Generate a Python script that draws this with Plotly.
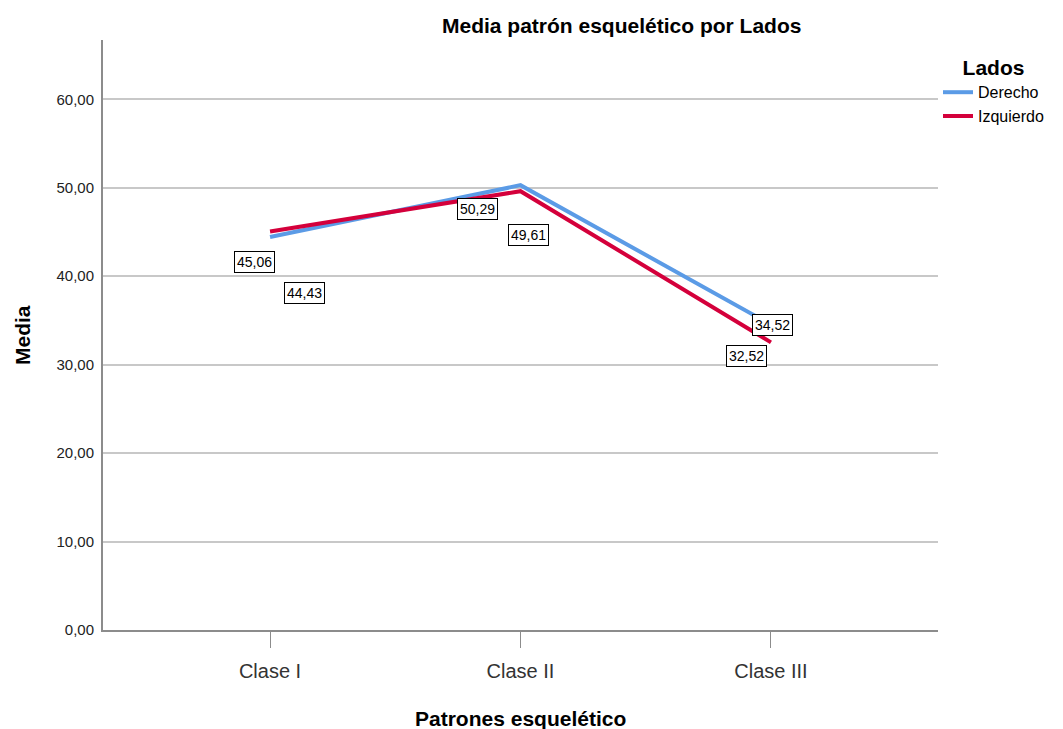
import plotly.graph_objects as go

# Medias por patrón esquelético y lado
categorias = ["Clase I", "Clase II", "Clase III"]
derecho = [44.43, 50.29, 34.52]
izquierdo = [45.06, 49.61, 32.52]

# desplazamiento (px) de cada etiqueta respecto a su punto
off_derecho = [(34, -56), (-43, -24), (2, 0)]
off_izquierdo = [(-16, -31), (8, -44), (-24, -14)]

AZUL = "#5b9be6"
ROJO = "#d4003b"
FUENTE = "Liberation Sans, Arial, sans-serif"

W, H = 1063, 729
L, R, T, B = 103, 125, 40, 99
PW, PH = W - L - R, H - T - B

fig = go.Figure()
fig.add_trace(go.Scatter(x=categorias, y=derecho, mode="lines", name="Derecho",
                         line=dict(color=AZUL, width=4)))
fig.add_trace(go.Scatter(x=categorias, y=izquierdo, mode="lines", name="Izquierdo",
                         line=dict(color=ROJO, width=4)))

def etiqueta(cat, val, off):
    return dict(x=cat, y=val, xref="x", yref="y", showarrow=False,
                text=f"{val:.2f}".replace(".", ","),
                xshift=off[0], yshift=off[1],
                font=dict(family=FUENTE, size=14, color="#000"),
                bgcolor="white", bordercolor="#000", borderwidth=1, borderpad=2)

def px_x(px):
    return (px - L) / PW

def px_y(py):
    return 1 - (py - T) / PH

anots = []
for c, v, o in zip(categorias, derecho, off_derecho):
    anots.append(etiqueta(c, v, o))
for c, v, o in zip(categorias, izquierdo, off_izquierdo):
    anots.append(etiqueta(c, v, o))

titulo_font = dict(family=FUENTE, size=21, color="#000")
# título general y títulos de ejes
anots.append(dict(text="<b>Media patrón esquelético por Lados</b>",
                  xref="paper", yref="paper", x=px_x(621), y=px_y(26),
                  xanchor="center", yanchor="middle", showarrow=False,
                  font=titulo_font))
anots.append(dict(text="<b>Patrones esquelético</b>",
                  xref="paper", yref="paper", x=px_x(520), y=px_y(718),
                  xanchor="center", yanchor="middle", showarrow=False,
                  font=titulo_font))
anots.append(dict(text="<b>Media</b>", textangle=-90,
                  xref="paper", yref="paper", x=px_x(22), y=px_y(335),
                  xanchor="center", yanchor="middle", showarrow=False,
                  font=titulo_font))
fig.update_layout(annotations=anots)

fig.update_layout(
    width=W, height=H,
    margin=dict(l=L, r=R, t=T, b=B, autoexpand=False),
    paper_bgcolor="white", plot_bgcolor="white",
    separators=",.",
    font=dict(family=FUENTE, color="#000"),
    showlegend=True,
    legend=dict(x=1.0, xanchor="left", y=px_y(48), yanchor="top",
                title=dict(text="<b>Lados</b>", side="top center",
                           font=dict(family=FUENTE, size=21, color="#000")),
                font=dict(family=FUENTE, size=16, color="#000"),
                itemwidth=30, tracegroupgap=0, borderwidth=0),
    xaxis=dict(range=[-0.667, 2.667], showgrid=False, showline=True,
               automargin=False,
               linecolor="#8c8c8c", linewidth=2, ticks="outside", ticklen=16,
               tickcolor="#8c8c8c", tickwidth=1, ticklabelstandoff=6,
               tickfont=dict(family=FUENTE, size=20, color="#333")),
    yaxis=dict(range=[0, 66.7], dtick=10, tickformat=".2f", showgrid=True,
               automargin=False,
               gridcolor="#c8c8c8", gridwidth=2, showline=True, linecolor="#8c8c8c",
               linewidth=2, zeroline=False, ticks="", ticklen=0, ticklabelstandoff=4,
               tickfont=dict(family=FUENTE, size=15, color="#222")),
)

fig.write_html("out.html")
